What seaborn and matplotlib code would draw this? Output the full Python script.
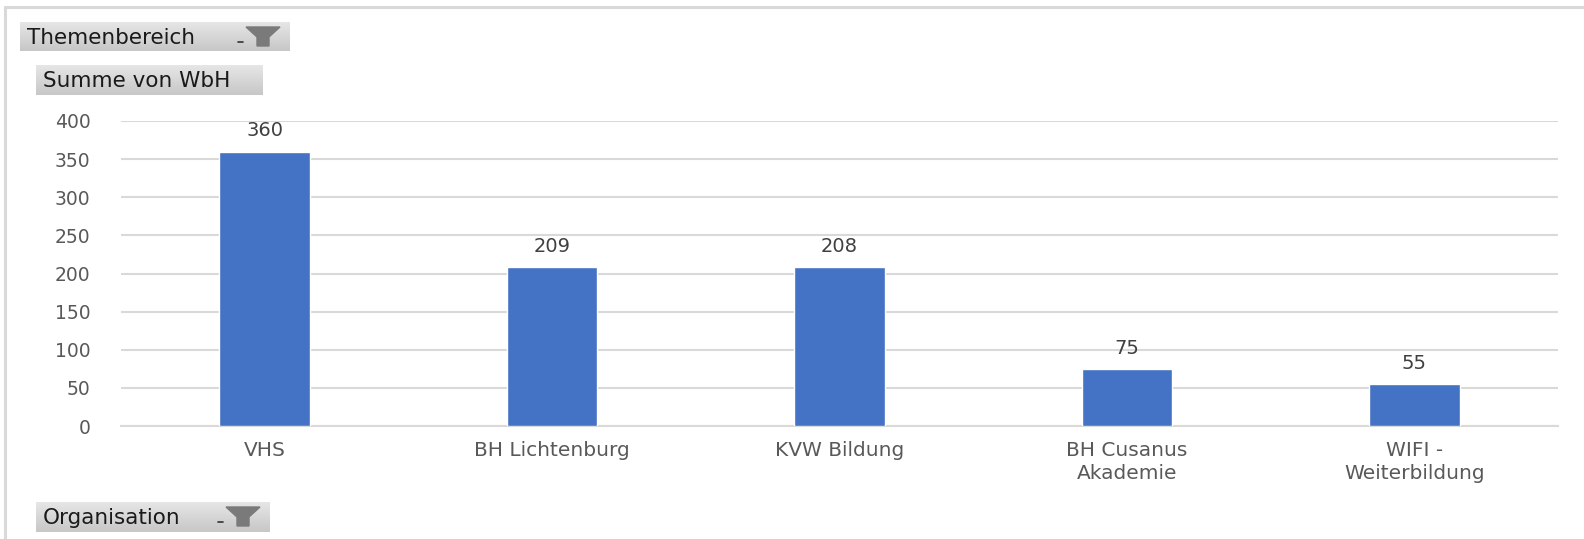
import numpy as np
import matplotlib
matplotlib.use("Agg")
import matplotlib.pyplot as plt
from matplotlib.lines import Line2D
from matplotlib.patches import Polygon
import seaborn as sns
import pandas as pd

# Werte aus der Pivot-Grafik
organisationen = ["VHS", "BH Lichtenburg", "KVW Bildung", "BH Cusanus\nAkademie", "WIFI -\nWeiterbildung"]
summe_wbh = [360, 209, 208, 75, 55]
y_ticks = [0, 50, 100, 150, 200, 250, 300, 350, 400]

W, H = 1584, 539
df = pd.DataFrame({"Organisation": organisationen, "WbH": summe_wbh})

sns.set_style("white")
plt.rcParams['font.family'] = ['DejaVu Sans']

fig = plt.figure(figsize=(W / 100, H / 100), dpi=100)
ax = fig.add_axes([121 / W, 1 - 426 / H, (1558 - 121) / W, (426 - 121) / H])

sns.barplot(data=df, x="Organisation", y="WbH", color="#4472c4", width=0.315,
            saturation=1, ax=ax, zorder=3)

ax.set_ylim(0, 400)
ax.set_yticks(y_ticks)
ax.yaxis.grid(True, color="#d9d9d9", linewidth=1.5, zorder=0)
ax.set_axisbelow(True)
for s in ["top", "right", "left"]:
    ax.spines[s].set_visible(False)
ax.spines["bottom"].set_color("#d9d9d9")
ax.spines["bottom"].set_linewidth(1.5)
ax.tick_params(axis="y", length=0, pad=22, labelsize=13.5, labelcolor="#595959")
ax.tick_params(axis="x", length=0, pad=11, labelsize=14.5, labelcolor="#595959")
for t in ax.get_xticklabels():
    t.set_linespacing(1.25)
ax.set_xlabel("")
ax.set_ylabel("")

for c in ax.containers:
    ax.bar_label(c, fmt="%d", padding=8, fontsize=14, color="#404040")

# Rahmen der Pivot-Ansicht
fig.add_artist(Line2D([5 / W, 1], [1 - 7 / H] * 2, color="#d9d9d9", lw=2.2))
fig.add_artist(Line2D([5 / W] * 2, [0, 1 - 7 / H], color="#d9d9d9", lw=2.2))


def feld_button(x0, y0, x1, y1, text, filter_icon):
    bax = fig.add_axes([x0 / W, 1 - y1 / H, (x1 - x0) / W, (y1 - y0) / H])
    grad = np.linspace(0.90, 0.78, 50).reshape(-1, 1)
    bax.imshow(grad, cmap="gray", vmin=0, vmax=1, aspect="auto",
               extent=[0, x1 - x0, y1 - y0, 0])
    bax.set_xlim(0, x1 - x0)
    bax.set_ylim(y1 - y0, 0)
    bax.axis("off")
    bax.text(7, (y1 - y0) / 2 + 1, text, fontsize=15.5, color="#1a1a1a",
             va="center", ha="left")
    if filter_icon:
        w = x1 - x0
        bax.add_patch(Polygon([[w - 44, 5], [w - 10, 5], [w - 21, 15], [w - 21, 24],
                               [w - 33, 24], [w - 33, 15]], closed=True,
                              color="#7a7a7a"))
        bax.plot([w - 52, w - 47], [20, 20], color="#333333", lw=1.2)


feld_button(20, 22, 290, 51, "Themenbereich", True)
feld_button(36, 65, 263, 95, "Summe von WbH", False)
feld_button(36, 502, 270, 532, "Organisation", True)

fig.savefig("out.png", dpi=100)
